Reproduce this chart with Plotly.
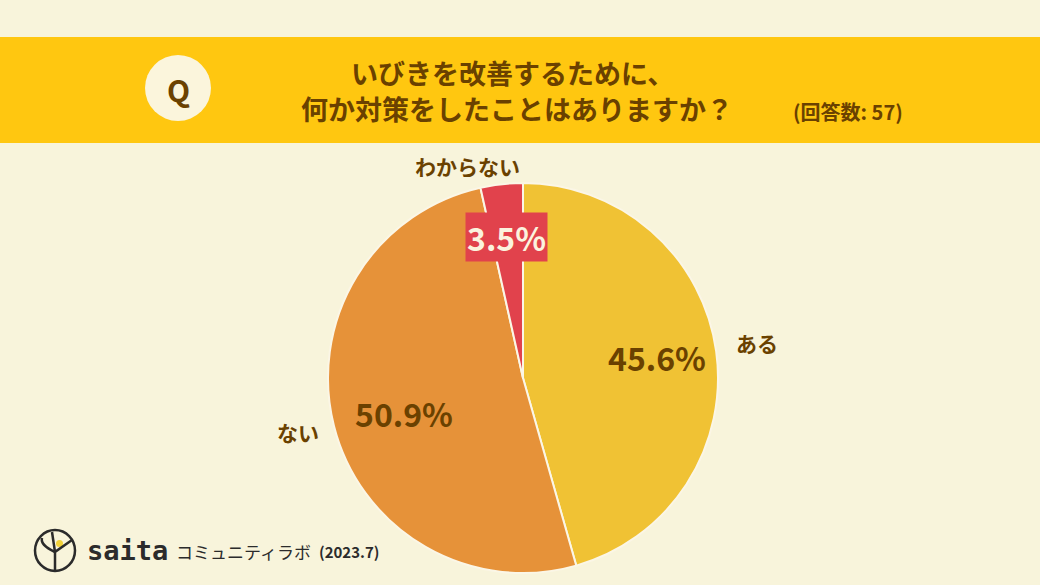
import plotly.graph_objects as go

categories = ["ある", "ない", "わからない"]
values = [45.6, 50.9, 3.5]
colors = ["#F0C234", "#E69239", "#E1424C"]
title_line1 = "いびきを改善するために、"
title_line2 = "何か対策をしたことはありますか？"
respondents = "(回答数: 57)"
footer_lab = "コミュニティラボ"
footer_date = "(2023.7)"

BG = "#F8F4DB"
BANNER = "#FFC710"
BROWN = "#6A4100"
FONT = "Noto Sans CJK JP"
W, H = 1040, 585

def px(x):
    return x / W

def py(y):
    return 1 - y / H

fig = go.Figure()
fig.add_trace(go.Pie(
    labels=categories,
    values=values,
    sort=False,
    direction="clockwise",
    rotation=0,
    marker=dict(colors=colors, line=dict(color="#FBF6E6", width=2)),
    textinfo="none",
    hoverinfo="label+percent",
    showlegend=False,
    domain=dict(x=[px(523 - 195), px(523 + 195)], y=[py(573), py(183)]),
))

shapes = [
    dict(type="rect", xref="paper", yref="paper", x0=0, x1=1, y0=py(143), y1=py(37),
         fillcolor=BANNER, line=dict(width=0), layer="below"),
    dict(type="circle", xref="paper", yref="paper", x0=px(145), x1=px(211), y0=py(121), y1=py(55),
         fillcolor="#FBF5DC", line=dict(width=0)),
    # logo
    dict(type="circle", xref="paper", yref="paper", x0=px(35), x1=px(75), y0=py(571), y1=py(530),
         fillcolor="rgba(0,0,0,0)", line=dict(color="#2B2B2B", width=2.5)),
    dict(type="circle", xref="paper", yref="paper", x0=px(56), x1=px(63), y0=py(547), y1=py(540),
         fillcolor="#F2D23A", line=dict(width=0)),
    dict(type="path", xref="paper", yref="paper",
         path=f"M {px(55)},{py(571)} L {px(55)},{py(552)} L {px(72)},{py(540)}",
         line=dict(color="#2B2B2B", width=2.5)),
    dict(type="path", xref="paper", yref="paper",
         path=f"M {px(55)},{py(552)} Q {px(40)},{py(545)} {px(42)},{py(538)}",
         line=dict(color="#2B2B2B", width=2.5)),
    dict(type="path", xref="paper", yref="paper",
         path=f"M {px(55)},{py(552)} L {px(52)},{py(532)}",
         line=dict(color="#2B2B2B", width=2.5)),
]

def ann(x, y, text, size, color=BROWN, **kw):
    d = dict(xref="paper", yref="paper", x=px(x), y=py(y), text=text, showarrow=False,
             font=dict(family=FONT, size=size, color=color, weight=700),
             xanchor="center", yanchor="middle")
    d.update(kw)
    return d

annotations = [
    ann(178, 89, "Q", 30),
    ann(512, 72, title_line1, 27),
    ann(517, 108, title_line2, 27),
    ann(848, 112, respondents, 20),
    ann(657, 357, f"{values[0]}%", 32),
    ann(404, 413, f"{values[1]}%", 32),
    ann(506, 237, f"{values[2]}%", 32, color="#FBF3DE", bgcolor=colors[2], borderpad=1),
    ann(757, 343, categories[0], 21),
    ann(298, 432, categories[1], 21),
    ann(467, 166, categories[2], 21),
    dict(xref="paper", yref="paper", x=px(127), y=py(550), text="saita", showarrow=False,
         font=dict(family="DejaVu Sans Mono", size=27, color="#2B2B2B", weight=700),
         xanchor="center", yanchor="middle"),
    dict(xref="paper", yref="paper", x=px(243), y=py(551), text=footer_lab, showarrow=False,
         font=dict(family=FONT, size=17, color="#2B2B2B"), xanchor="center", yanchor="middle"),
    ann(349, 551, footer_date, 15, color="#2B2B2B"),
]

fig.update_layout(
    width=W, height=H,
    paper_bgcolor=BG, plot_bgcolor=BG,
    margin=dict(l=0, r=0, t=0, b=0),
    shapes=shapes,
    annotations=annotations,
    font=dict(family=FONT, color=BROWN),
)

fig.write_html("out.html")
